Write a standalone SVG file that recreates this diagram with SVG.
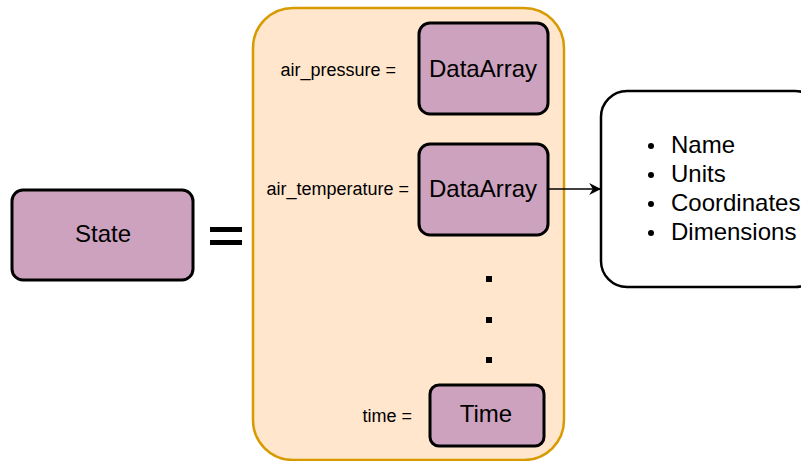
<svg xmlns="http://www.w3.org/2000/svg" width="801" height="461" viewBox="0 0 801 461">
<defs>
<style>
.node{fill:#cda2be;stroke:#000;stroke-width:3}
text{font-family:"Liberation Sans",Arial,sans-serif;fill:#000}
.big{font-size:24px;text-anchor:middle;dominant-baseline:central}
.lbl{font-size:18px;text-anchor:end;dominant-baseline:central}
.item{font-size:24px}
</style>
<marker id="arr" viewBox="0 0 10 10" refX="9" refY="5" markerWidth="12" markerHeight="12" orient="auto" markerUnits="userSpaceOnUse">
<path d="M0,0 L10,5 L0,10 L3,5 z" fill="#000"/>
</marker>
</defs>
<rect width="801" height="461" fill="#fff"/>
<g id="container">
<rect x="253" y="8" width="311" height="452" rx="40" fill="#ffe6cc" stroke="#d79b00" stroke-width="2.5"/>
</g>
<g id="state">
<rect class="node" x="12" y="190" width="181" height="90" rx="11"/>
<text class="big" x="103" y="233">State</text>
</g>
<g id="equals">
<rect x="210" y="227" width="32" height="5" fill="#000"/>
<rect x="210" y="240" width="32" height="5" fill="#000"/>
</g>
<g id="air_pressure">
<text class="lbl" x="396" y="70">air_pressure =</text>
<rect class="node" x="419" y="23" width="129" height="91" rx="11"/>
<text class="big" x="483" y="68">DataArray</text>
</g>
<g id="air_temperature">
<text class="lbl" x="409" y="189">air_temperature =</text>
<rect class="node" x="419" y="144" width="129" height="91" rx="11"/>
<text class="big" x="483" y="188">DataArray</text>
</g>
<g id="dots">
<rect x="486" y="276" width="6" height="6" fill="#000"/>
<rect x="486" y="317" width="6" height="6" fill="#000"/>
<rect x="486" y="357" width="6" height="6" fill="#000"/>
</g>
<g id="time">
<text class="lbl" x="412" y="416">time =</text>
<rect class="node" x="430" y="385" width="114" height="61" rx="9"/>
<text class="big" x="486" y="413">Time</text>
</g>
<g id="attrs">
<rect x="601" y="91" width="220" height="196" rx="26" fill="#fff" stroke="#000" stroke-width="2.5"/>
<circle cx="651" cy="146" r="3" fill="#000"/>
<circle cx="651" cy="175" r="3" fill="#000"/>
<circle cx="651" cy="204" r="3" fill="#000"/>
<circle cx="651" cy="233" r="3" fill="#000"/>
<text class="item" x="671" y="153">Name</text>
<text class="item" x="671" y="182">Units</text>
<text class="item" x="671" y="211">Coordinates</text>
<text class="item" x="671" y="240">Dimensions</text>
</g>
<g id="connectors">
<line x1="549" y1="189" x2="600" y2="189" stroke="#000" stroke-width="1.3" marker-end="url(#arr)"/>
</g>
</svg>
